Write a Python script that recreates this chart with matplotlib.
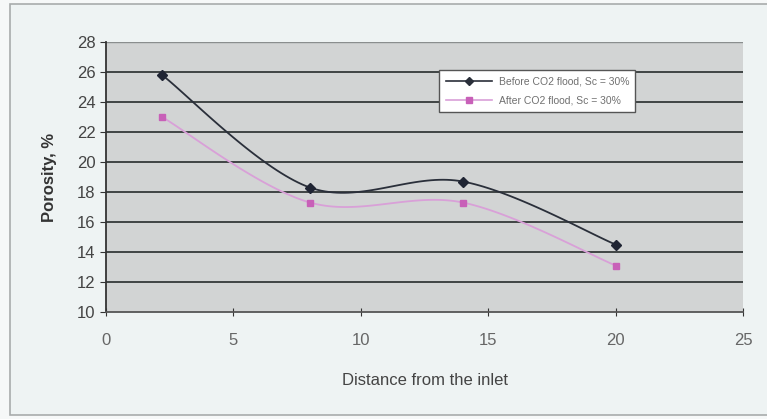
import matplotlib.pyplot as plt
from matplotlib.patches import Rectangle
import numpy as np

plt.rcParams['font.family'] = ['Liberation Sans', 'DejaVu Sans']

# distance from inlet and porosity values
distance = [2.2, 8, 14, 20]
before = [25.8, 18.3, 18.7, 14.5]
after = [23.0, 17.3, 17.3, 13.1]

before_label = 'Before CO2 flood, Sc = 30%'
after_label = 'After CO2 flood, Sc = 30%'


def smooth(x, y, n=40):
    # Excel-style smoothed line (cardinal bezier through the points)
    p = np.column_stack([x, y]).astype(float)
    p = np.vstack([p[0], p, p[-1]])
    out = []
    t = np.linspace(0, 1, n)[:, None]
    for i in range(1, len(p) - 2):
        p0, p1, p2, p3 = p[i - 1], p[i], p[i + 1], p[i + 2]
        c1 = p1 + (p2 - p0) / 6
        c2 = p2 - (p3 - p1) / 6
        seg = ((1 - t) ** 3) * p1 + 3 * ((1 - t) ** 2) * t * c1 \
            + 3 * (1 - t) * t ** 2 * c2 + t ** 3 * p2
        out.append(seg)
    out = np.vstack(out)
    return out[:, 0], out[:, 1]


fig = plt.figure(figsize=(7.67, 4.19), dpi=100)
fig.patch.set_facecolor('#f6f8f8')
fig.patches.append(Rectangle((10 / 767, 4 / 419), 1.0, 411 / 419, transform=fig.transFigure,
                             facecolor='#eef3f3', edgecolor='#a8acac', linewidth=1.2,
                             zorder=-5))

ax = fig.add_axes([106 / 767, 107 / 419, 637 / 767, 270 / 419])
ax.set_facecolor('#d2d4d4')

for yv in range(12, 27, 2):
    ax.axhline(yv, color='#404545', linewidth=1.4, zorder=1)
ax.axhline(28, color='#8a8e8e', linewidth=1.0, zorder=1)

sx, sy = smooth(distance, before)
ax.plot(sx, sy, color='#2a2f3a', linewidth=1.3, zorder=3)
ax.plot(distance, before, linestyle='none', marker='D', markersize=5, color='#1f2433', zorder=4)
sx, sy = smooth(distance, after)
ax.plot(sx, sy, color='#d9a0d8', linewidth=1.3, zorder=3)
ax.plot(distance, after, linestyle='none', marker='s', markersize=5, color='#c860b8', zorder=4)

# legend entries
ax.plot([], [], color='#2a2f3a', marker='D', markersize=4, linewidth=1.2, label=before_label)
ax.plot([], [], color='#d9a0d8', marker='s', markersize=4, markerfacecolor='#c860b8',
        markeredgecolor='#c860b8', linewidth=1.2, label=after_label)
h, l = ax.get_legend_handles_labels()
leg = ax.legend(h[-2:], l[-2:], loc='upper left', bbox_to_anchor=(0.515, 0.915), fontsize=7.5,
                frameon=True, fancybox=False, framealpha=1, edgecolor='#555555',
                handlelength=4.5, labelcolor='#707070', labelspacing=0.9,
                borderpad=0.6, handletextpad=0.6)
leg.get_frame().set_linewidth(1.0)

ax.set_xlim(0, 25)
ax.set_ylim(10, 28)
ax.set_xticks([0, 5, 10, 15, 20, 25])
ax.set_yticks(range(10, 29, 2))
ax.tick_params(axis='both', labelsize=12, colors='#333333', length=4, labelcolor='#444444')
ax.tick_params(axis='x', pad=12, labelcolor='#666666', direction='inout', length=6)
for s in ['top', 'right']:
    ax.spines[s].set_visible(False)
ax.spines['left'].set_color('#333333')
ax.spines['bottom'].set_color('#555555')
ax.spines['left'].set_linewidth(1.3)
ax.spines['bottom'].set_linewidth(1.3)

ax.set_xlabel('Distance from the inlet', fontsize=12, color='#444444', labelpad=18)
ax.set_ylabel('Porosity, %', fontsize=12, color='#333333', labelpad=14, fontweight='bold')

fig.savefig('out.png', dpi=100, facecolor=fig.get_facecolor())
